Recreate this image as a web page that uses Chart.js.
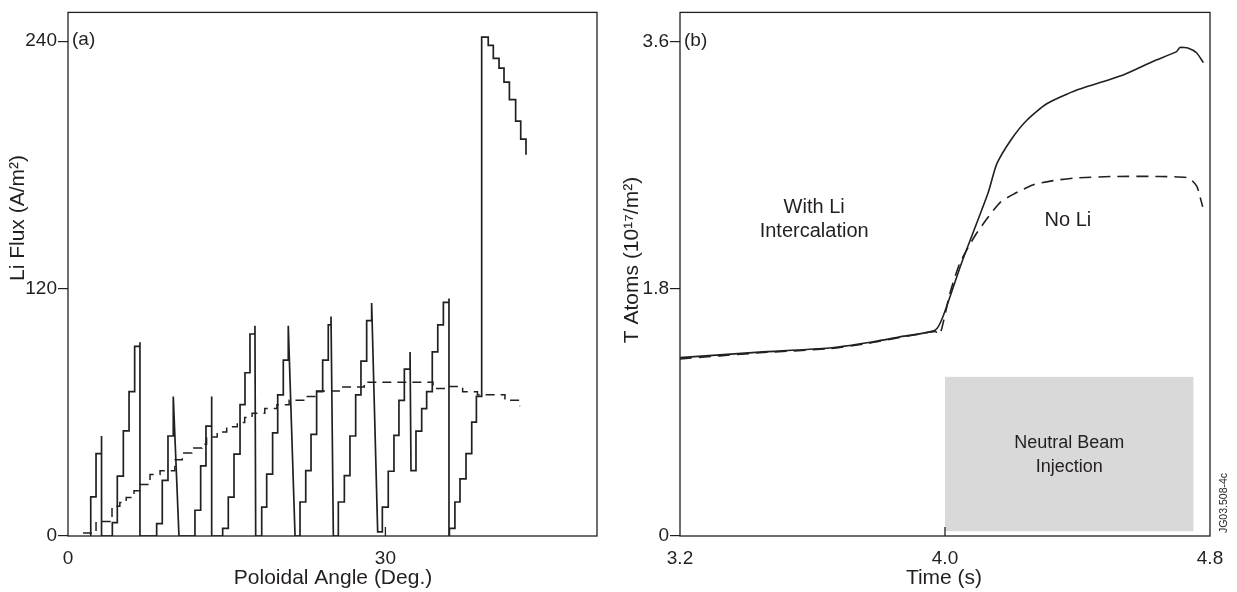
<!DOCTYPE html>
<html>
<head>
<meta charset="utf-8">
<script src="https://cdn.jsdelivr.net/npm/chart.js@4.4.1/dist/chart.umd.min.js"></script>
<style>
  html, body { margin: 0; padding: 0; background: #fff; }
  #wrap { position: relative; width: 1237px; height: 592px; }
  .panel { position: absolute; top: 0; height: 592px; }
  #pa { left: 0; width: 615px; }
  #pb { left: 615px; width: 622px; }
</style>
</head>
<body>
<div id="wrap">
  <div class="panel" id="pa"><canvas id="chartA"></canvas></div>
  <div class="panel" id="pb"><canvas id="chartB"></canvas></div>
</div>
<script>
// ---- (a) Li flux vs poloidal angle: each tooth is a list of [angle, level] steps
const tooth1  = [[2.15, 19], [2.65, 40], [3.17, 48.5]];
const tooth2  = [[4.19, 6.5], [4.66, 29], [5.23, 51], [5.77, 70], [6.3, 92], [6.8, 94]];
const tooth3  = [[8.38, 6], [8.91, 27], [9.45, 48.5], [9.95, 67.7]];
const tooth4  = [[12.0, 12.5], [12.54, 34], [13.04, 53.3], [13.58, 67.7]];
const tooth5  = [[14.62, 3.7], [15.15, 18.9], [15.69, 39.7], [16.26, 63.7], [16.73, 79.2], [17.2, 98], [17.67, 102]];
const tooth6  = [[18.31, 14], [18.78, 30], [19.34, 50], [19.82, 68.5], [20.35, 85.3], [20.82, 102]];
const tooth7  = [[21.93, 16.5], [22.47, 31.7], [22.97, 49.3], [23.5, 70], [24.07, 85.3], [24.6, 102.4], [24.86, 106.5]];
const tooth8  = [[25.55, 16.5], [26.12, 29.3], [26.65, 48.5], [27.19, 68.5], [27.69, 84.8], [28.23, 104.5], [28.7, 113]];
const tooth9  = [[29.71, 14], [30.27, 31.4], [30.81, 48.8], [31.28, 65.8], [31.79, 81], [32.33, 89.3]];
const tooth10 = [[32.89, 50.9], [33.43, 61.8], [33.9, 70], [34.43, 89.3], [34.95, 102.4], [35.48, 113.3], [36.01, 115.2]];
const tooth11 = [[36.05, 3.7], [36.57, 16.5], [37.05, 27.7], [37.62, 40], [38.16, 55.2], [38.6, 67.7], [39.1, 242],
                 [39.72, 238], [40.2, 231.7], [40.74, 227], [41.21, 220.2], [41.72, 211.7], [42.31, 201.3], [42.79, 192.5], [43.29, 185]];
const teeth      = [tooth1, tooth2, tooth3, tooth4, tooth5, tooth6, tooth7, tooth8, tooth9, tooth10, tooth11];
const toothDrop  = [3.17, 6.8, 10.49, 13.58, 17.74, 21.46, 25.08, 29.27, 32.42, 36.01, null];
const toothFloor = [0, 0, 0, 0, 0, 0, 0, 2, 31.7, 0, null];

// dashed trace, [angle, level] steps
const dashSteps = [[1.42, 1.5], [2.65, 7], [4.16, 14.4], [4.9, 16.3], [5.5, 18.7], [6.24, 22], [6.71, 25], [7.75, 29.8],
                   [8.7, 31.7], [10.1, 37], [10.8, 40.3], [11.7, 42.7], [12.67, 44.5], [13.1, 48], [14.1, 50.5], [15.0, 53],
                   [16.0, 55], [16.7, 57.5], [17.4, 59.5], [18.6, 61.8], [19.75, 63.7], [20.9, 65.8], [22.4, 67.7], [23.5, 70.4],
                   [25.9, 72.3], [28.0, 74.6], [34.5, 71.5], [35.8, 72.5], [37.3, 70], [38.7, 68.5], [41.3, 65.8], [42.7, 63]];

const angleTicks = [0, 30];
const fluxTicks  = [0, 120, 240];

// ---- (b) T atoms vs time
const timeLi    = [3.2, 3.44, 3.65, 3.77, 3.86, 3.97, 3.994, 4.05, 4.13, 4.156, 4.2, 4.247, 4.307, 4.398, 4.538, 4.629, 4.699, 4.709, 4.735, 4.76, 4.78];
const atomsLi   = [1.30, 1.34, 1.37, 1.41, 1.45, 1.50, 1.60, 1.99, 2.50, 2.71, 2.89, 3.03, 3.15, 3.25, 3.36, 3.46, 3.53, 3.56, 3.555, 3.52, 3.45];
const timeNoLi  = [3.2, 3.44, 3.65, 3.77, 3.86, 3.97, 3.985, 4.015, 4.045, 4.091, 4.126, 4.166, 4.206, 4.267, 4.327, 4.398, 4.508, 4.649, 4.735, 4.76, 4.77, 4.778];
const atomsNoLi = [1.29, 1.335, 1.365, 1.405, 1.445, 1.49, 1.47, 1.77, 1.99, 2.19, 2.31, 2.43, 2.49, 2.56, 2.59, 2.61, 2.62, 2.62, 2.61, 2.55, 2.47, 2.40];
const timeTicks = [3.2, 4.0, 4.8];
const atomTicks = [0, 1.8, 3.6];
const nbiTime   = [4.0, 4.75];
const nbiAtoms  = [0.035, 1.16];

const INK  = '#231f20';
const FONT = "'Liberation Sans', Arial, Helvetica, sans-serif";

function stairs(steps, from, pts) {
  steps.forEach(function (s, i) {
    var prev = i === 0 ? from : steps[i - 1][1];
    pts.push({ x: s[0], y: prev });
    pts.push({ x: s[0], y: s[1] });
  });
}

var solidPts = [];
teeth.forEach(function (t, i) {
  stairs(t, i === 0 ? 0 : toothFloor[i - 1], solidPts);
  if (toothDrop[i] !== null) solidPts.push({ x: toothDrop[i], y: toothFloor[i] });
});
var dashPts = [];
stairs(dashSteps, dashSteps[0][1], dashPts);

function zip(xs, ys) { return xs.map(function (x, i) { return { x: x, y: ys[i] }; }); }

function axes(xMin, xMax, xList, xFmt, yMin, yMax, yList, yFmt, yWidth) {
  return {
    x: {
      type: 'linear', min: xMin, max: xMax,
      afterBuildTicks: function (s) { s.ticks = xList.map(function (v) { return { value: v }; }); },
      afterFit: function (s) { s.height = 56; },
      grid: { display: false }, border: { display: false },
      ticks: { color: INK, font: { family: FONT, size: 19 }, padding: 3, maxRotation: 0, callback: xFmt },
    },
    y: {
      type: 'linear', min: yMin, max: yMax,
      afterBuildTicks: function (s) { s.ticks = yList.map(function (v) { return { value: v }; }); },
      afterFit: function (s) { s.width = yWidth; },
      grid: { drawOnChartArea: false, drawTicks: true, tickLength: 10, color: INK, lineWidth: 1.2 },
      border: { display: false },
      ticks: { color: INK, font: { family: FONT, size: 19 }, padding: 1, callback: yFmt },
    },
  };
}

function framePlugin(innerTicks, notes) {
  return {
    id: 'frame',
    beforeDatasetsDraw: function (chart) {
      if (notes.before) notes.before(chart, chart.ctx);
    },
    afterDraw: function (chart) {
      var ctx = chart.ctx, a = chart.chartArea, xs = chart.scales.x;
      ctx.save();
      ctx.strokeStyle = INK; ctx.lineWidth = 1.3;
      ctx.strokeRect(a.left, a.top, a.right - a.left, a.bottom - a.top);
      innerTicks.forEach(function (v) {
        var px = xs.getPixelForValue(v);
        ctx.beginPath(); ctx.moveTo(px, a.bottom); ctx.lineTo(px, a.bottom - 9); ctx.stroke();
      });
      ctx.fillStyle = INK;
      notes.after(chart, ctx);
      ctx.restore();
    },
  };
}

function vText(ctx, txt, x, y, size) {
  ctx.save();
  ctx.translate(x, y); ctx.rotate(-Math.PI / 2);
  ctx.font = size + 'px ' + FONT; ctx.textAlign = 'center'; ctx.textBaseline = 'middle';
  ctx.fillText(txt, 0, 0);
  ctx.restore();
}

function hText(ctx, txt, x, y, size, align) {
  ctx.font = size + 'px ' + FONT; ctx.textAlign = align || 'center'; ctx.textBaseline = 'middle';
  ctx.fillText(txt, x, y);
}

Chart.defaults.animation = false;
Chart.defaults.devicePixelRatio = 1;

new Chart(document.getElementById('chartA'), {
  type: 'scatter',
  data: {
    datasets: [
      { data: solidPts, showLine: true, borderColor: INK, borderWidth: 1.7, pointRadius: 0, tension: 0 },
      { data: dashPts, showLine: true, borderColor: INK, borderWidth: 1.5, borderDash: [9, 6], pointRadius: 0, tension: 0 },
    ],
  },
  options: {
    responsive: true, maintainAspectRatio: false,
    layout: { padding: { top: 7, right: 18, left: 0, bottom: 0 } },
    plugins: { legend: { display: false }, tooltip: { enabled: false } },
    scales: axes(0, 50, angleTicks, function (v) { return String(v); },
                 0, 254, fluxTicks, function (v) { return String(v); }, 68),
  },
  plugins: [framePlugin([30], {
    after: function (chart, ctx) {
      var a = chart.chartArea, ys = chart.scales.y;
      hText(ctx, '(a)', a.left + 4, ys.getPixelForValue(240) - 1, 19, 'left');
      vText(ctx, 'Li Flux (A/m²)', 18, 218, 21);
      hText(ctx, 'Poloidal Angle (Deg.)', 333, 578, 21);
    },
  })],
});

new Chart(document.getElementById('chartB'), {
  type: 'scatter',
  data: {
    datasets: [
      { data: zip(timeLi, atomsLi), showLine: true, borderColor: INK, borderWidth: 1.6, pointRadius: 0, tension: 0.2 },
      { data: zip(timeNoLi, atomsNoLi), showLine: true, borderColor: INK, borderWidth: 1.6, borderDash: [12, 7], pointRadius: 0, tension: 0.2 },
    ],
  },
  options: {
    responsive: true, maintainAspectRatio: false,
    layout: { padding: { top: 7, right: 27, left: 0, bottom: 0 } },
    plugins: { legend: { display: false }, tooltip: { enabled: false } },
    scales: axes(3.2, 4.8, timeTicks, function (v) { return v.toFixed(1); },
                 0, 3.816, atomTicks, function (v) { return v === 0 ? '0' : v.toFixed(1); }, 65),
  },
  plugins: [framePlugin([4.0], {
    before: function (chart, ctx) {
      var xs = chart.scales.x, ys = chart.scales.y;
      var x0 = xs.getPixelForValue(nbiTime[0]), x1 = xs.getPixelForValue(nbiTime[1]);
      var y0 = ys.getPixelForValue(nbiAtoms[1]), y1 = ys.getPixelForValue(nbiAtoms[0]);
      ctx.save();
      ctx.fillStyle = '#d9d9d9';
      ctx.fillRect(x0, y0, x1 - x0, y1 - y0);
      ctx.restore();
    },
    after: function (chart, ctx) {
      var a = chart.chartArea, xs = chart.scales.x, ys = chart.scales.y;
      hText(ctx, '(b)', a.left + 4, ys.getPixelForValue(3.6) - 1, 19, 'left');
      vText(ctx, 'T Atoms (10¹⁷/m²)', 17, 260, 21);
      hText(ctx, 'Time (s)', 329, 578, 21);
      var cx = xs.getPixelForValue(3.605), cy = ys.getPixelForValue(2.31);
      hText(ctx, 'With Li', cx, cy - 12, 20);
      hText(ctx, 'Intercalation', cx, cy + 12, 20);
      hText(ctx, 'No Li', xs.getPixelForValue(4.371), ys.getPixelForValue(2.297), 20);
      var bx = xs.getPixelForValue((nbiTime[0] + nbiTime[1]) / 2), by = ys.getPixelForValue(0.59);
      hText(ctx, 'Neutral Beam', bx, by - 12, 18);
      hText(ctx, 'Injection', bx, by + 12, 18);
      vText(ctx, 'JG03.508-4c', 609, 503, 10.5);
    },
  })],
});
</script>
</body>
</html>
